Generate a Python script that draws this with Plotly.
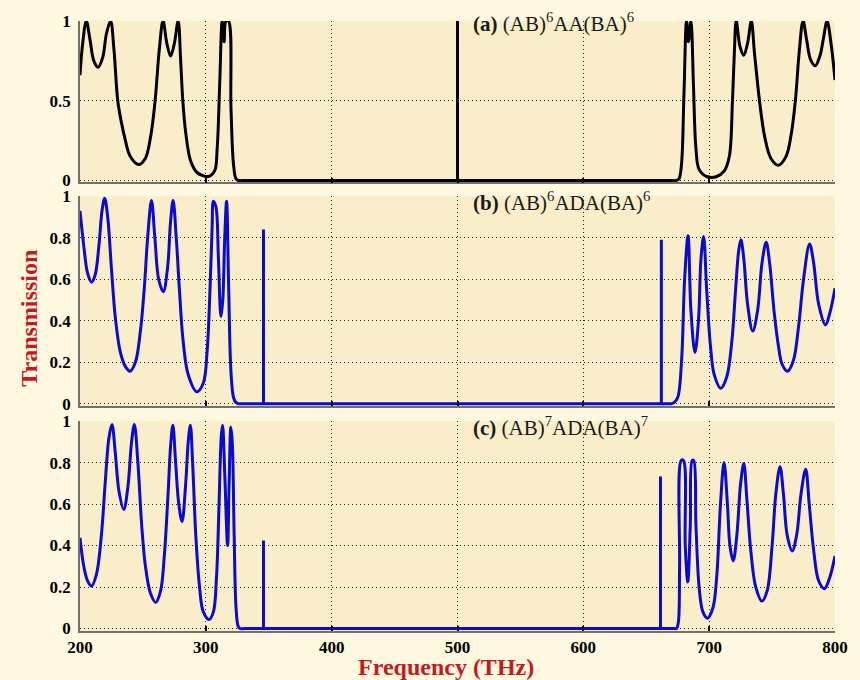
import plotly.graph_objects as go
from plotly.subplots import make_subplots

# ---------------- data ----------------
freq_a = [200, 202, 205, 208, 211, 214.4, 218, 221, 224.3, 227, 230, 233, 235.5, 240, 246.6,
          252, 256, 259.7, 263, 266, 269, 272, 275, 278, 280, 281.7, 284, 288, 293, 302,
          307, 309, 311, 313, 314.5, 316, 318, 320, 322, 324, 326, 330, 340,
          660, 670, 674, 676, 678, 680, 682, 683.5, 685.5, 687.5, 689.5, 692, 698, 706, 712, 716, 718.5,
          720, 721.5, 724.5, 727.5, 730.5, 733.5, 736, 740, 744, 749, 755, 761, 765, 768.5,
          771.5, 774.6, 777.5, 780.5, 784.3, 788, 791, 793.7, 797, 800]
trans_a = [0.66, 0.85, 1.0, 0.88, 0.75, 0.71, 0.77, 0.92, 1.0, 0.82, 0.5, 0.36, 0.27, 0.15, 0.1,
           0.14, 0.27, 0.5, 0.82, 1.0, 0.86, 0.78, 0.86, 1.0, 0.75, 0.5, 0.3, 0.12, 0.05, 0.025,
           0.06, 0.2, 0.6, 1.0, 0.87, 1.0, 1.0, 0.45, 0.1, 0.01, 0.0, 0.0, 0.0,
           0.0, 0.0, 0.0, 0.01, 0.1, 0.55, 1.0, 0.87, 1.0, 0.6, 0.2, 0.07, 0.025, 0.025, 0.06, 0.15, 0.5,
           0.8, 1.0, 0.84, 0.785, 0.86, 1.0, 0.8, 0.5, 0.28, 0.14, 0.096, 0.15, 0.28, 0.5,
           0.8, 1.0, 0.88, 0.76, 0.72, 0.78, 0.9, 1.0, 0.85, 0.63]
spike_freq_a = [500]
spike_trans_a = [1.0]

freq_b = [200, 203, 206, 209.2, 212, 215, 217.5, 219.6, 222, 225, 228, 232, 236, 239.8, 244,
          248, 251, 254, 256.8, 259.5, 262.5, 266.2, 269.5, 272, 274, 276.5, 279, 282, 286,
          292.9, 298, 301, 303, 305, 306, 308, 310, 312, 313.5, 315, 316.5, 318, 320, 322,
          324, 326, 330, 340,
          660, 666, 670, 672, 675, 678, 680.5, 683.2, 685.5, 688.7, 691.5, 693.5,
          695.6, 698, 701, 704, 709.2, 714, 718, 721, 723.5, 725.2, 727.5, 730.5, 734.6,
          738.5, 742, 745.3, 748, 751.5, 755, 758, 762.3, 767, 771, 775, 779.8, 783, 787,
          792.4, 796, 800]
trans_b = [0.93, 0.76, 0.63, 0.586, 0.62, 0.76, 0.93, 0.99, 0.9, 0.65, 0.42, 0.25, 0.18, 0.157, 0.2,
           0.35, 0.55, 0.82, 0.98, 0.8, 0.6, 0.54, 0.65, 0.88, 0.98, 0.8, 0.55, 0.3, 0.14,
           0.058, 0.1, 0.25, 0.5, 0.85, 0.976, 0.95, 0.7, 0.42, 0.5, 0.8, 0.976, 0.6, 0.15, 0.03,
           0.005, 0.0, 0.0, 0.0,
           0.0, 0.0, 0.0, 0.005, 0.03, 0.2, 0.6, 0.81, 0.45, 0.247, 0.4, 0.7,
           0.806, 0.55, 0.28, 0.14, 0.074, 0.13, 0.3, 0.55, 0.74, 0.79, 0.7, 0.48, 0.35,
           0.45, 0.68, 0.778, 0.68, 0.45, 0.28, 0.19, 0.157, 0.21, 0.37, 0.6, 0.77, 0.68, 0.48,
           0.38, 0.44, 0.557]
spike_freq_b = [345.8, 662]
spike_trans_b = [0.84, 0.79]

freq_c = [200, 203, 206, 209.2, 213, 217, 220, 223, 225.4, 228, 231, 234.8, 238, 241, 243.2,
          246, 249, 252, 256, 260.2, 264, 267, 270, 272, 273.8, 276, 278.5, 281.1, 284, 286,
          287.7, 289.5, 292, 295, 298, 302.6, 306, 308.5, 310.5, 312.3, 313.3, 315, 317.3,
          318.5, 319.9, 321, 322.5, 324, 325.7, 327, 331, 340,
          660, 668, 672, 674, 675.5, 676.5, 677.8, 679.6, 681, 683, 685, 686.5, 687.7, 689.5,
          692, 695, 698.7, 703, 706, 709, 711.8, 714.5, 716.5, 719.1, 722, 725, 727.5, 730,
          733, 737, 741.9, 746, 750, 753, 756.3, 759, 762, 766, 769.5, 773, 776.7, 779.5,
          783, 787, 791.6, 796, 800]
trans_c = [0.437, 0.3, 0.23, 0.205, 0.26, 0.45, 0.7, 0.92, 0.984, 0.85, 0.66, 0.574, 0.68, 0.9, 0.984,
           0.8, 0.5, 0.3, 0.17, 0.126, 0.18, 0.35, 0.65, 0.88, 0.98, 0.8, 0.6, 0.516, 0.7, 0.9,
           0.98, 0.8, 0.45, 0.2, 0.08, 0.043, 0.08, 0.25, 0.6, 0.93, 0.98, 0.75, 0.4,
           0.7, 0.97, 0.9, 0.45, 0.1, 0.01, 0.0, 0.0, 0.0,
           0.0, 0.0, 0.0, 0.0, 0.03, 0.3, 0.81, 0.81, 0.4, 0.224, 0.5, 0.81, 0.81, 0.5,
           0.2, 0.08, 0.05, 0.1, 0.25, 0.6, 0.8, 0.6, 0.4, 0.326, 0.45, 0.7, 0.795, 0.62,
           0.38, 0.2, 0.132, 0.18, 0.4, 0.65, 0.78, 0.65, 0.45, 0.374, 0.45, 0.65, 0.768, 0.6,
           0.38, 0.23, 0.192, 0.25, 0.35]
spike_freq_c = [345.8, 661.3]
spike_trans_c = [0.424, 0.733]

x_ticks = [200, 300, 400, 500, 600, 700, 800]
x_ticklabels = ["200", "300", "400", "500", "600", "700", "800"]
y_ticks_a = [0, 0.5, 1]
y_ticklabels_a = ["0", "0.5", "1"]
y_ticks_bc = [0, 0.2, 0.4, 0.6, 0.8, 1]
y_ticklabels_bc = ["0", "0.2", "0.4", "0.6", "0.8", "1"]

panel_labels = ["<b>(a)</b> (AB)<sup>6</sup>AA(BA)<sup>6</sup>",
                "<b>(b)</b> (AB)<sup>6</sup>ADA(BA)<sup>6</sup>",
                "<b>(c)</b> (AB)<sup>7</sup>ADA(BA)<sup>7</sup>"]

# ---------------- figure ----------------
W, H = 860, 680
ml, mr, mt, mb = 80, 16, 15, 49
ph = H - mt - mb
pw = W - ml - mr

def dom(top_px, bot_px):
    return [1 - (bot_px - mt) / ph, 1 - (top_px - mt) / ph]

fig = make_subplots(rows=3, cols=1, shared_xaxes=False, vertical_spacing=0.02)

series = [(freq_a, trans_a, spike_freq_a, spike_trans_a, "#000000"),
          (freq_b, trans_b, spike_freq_b, spike_trans_b, "#0a0ad0"),
          (freq_c, trans_c, spike_freq_c, spike_trans_c, "#0a0ad0")]
for i, (fx, ty, sfx, sty, col) in enumerate(series):
    fig.add_trace(go.Scatter(x=fx, y=ty, mode="lines",
                             line=dict(color=col, width=3, shape="spline", smoothing=1.0),
                             showlegend=False, hoverinfo="skip"), row=i + 1, col=1)
    sx, sy = [], []
    for f, t in zip(sfx, sty):
        sx += [f, f, None]
        sy += [0, t, None]
    fig.add_trace(go.Scatter(x=sx, y=sy, mode="lines", line=dict(color=col, width=3),
                             showlegend=False, hoverinfo="skip"), row=i + 1, col=1)

domains = [dom(15, 178), dom(192, 404), dom(419, 631)]
serif = "Liberation Serif, Times New Roman, serif"
tickfont = dict(family=serif, size=17, color="#000000", weight="bold")
griddash = "1px,3px"

for i in range(3):
    n = "" if i == 0 else str(i + 1)
    fig.layout["yaxis" + n].update(
        domain=domains[i],
        range=[-0.012, 1.0],
        tickvals=y_ticks_a if i == 0 else y_ticks_bc,
        ticktext=y_ticklabels_a if i == 0 else y_ticklabels_bc,
        tickfont=tickfont,
        showgrid=True, gridcolor="#202020", griddash=griddash, gridwidth=1.2,
        zeroline=False, showline=True, linecolor="#707070", linewidth=1.5,
        ticks="", ticklabelstandoff=4,
    )
    fig.layout["xaxis" + n].update(
        range=[200, 800],
        tickvals=x_ticks, ticktext=x_ticklabels,
        showticklabels=(i == 2),
        tickfont=tickfont,
        showgrid=True, gridcolor="#202020", griddash=griddash, gridwidth=1.2,
        zeroline=False, showline=True, linecolor="#707070", linewidth=1.5,
        ticks="inside", ticklen=5, tickcolor="#000000", tickwidth=1.5,
    )

# panel label positions (top edge, in pixels) converted to paper coordinates
label_top_px = [0.5, 181.5, 408.5]
label_left_px = 476
annos = []
for i, lab in enumerate(panel_labels):
    annos.append(dict(x=(label_left_px - ml) / pw, y=1 - (label_top_px[i] - mt) / ph,
                      xref="paper", yref="paper", text=lab, showarrow=False,
                      xanchor="left", yanchor="top",
                      font=dict(family=serif, size=21, color="#1a1a1a")))

annos.append(dict(x=(28 - ml) / pw, y=1 - (315 - mt) / ph, xref="paper", yref="paper",
                  text="<b>Transmission</b>", textangle=-90, showarrow=False,
                  xanchor="center", yanchor="middle",
                  font=dict(family=serif, size=24, color="#c41a1a")))
annos.append(dict(x=(450 - ml) / pw, y=-(667 - 631) / ph, xref="paper", yref="paper",
                  text="<b>Frequency (THz)</b>", showarrow=False,
                  xanchor="center", yanchor="middle",
                  font=dict(family=serif, size=24, color="#c41a1a")))

fig.update_layout(
    width=W, height=H,
    margin=dict(l=ml, r=mr, t=mt, b=mb, pad=0),
    paper_bgcolor="#fdf8df",
    plot_bgcolor="#f9eec9",
    annotations=annos,
)

fig.write_html("out.html")
